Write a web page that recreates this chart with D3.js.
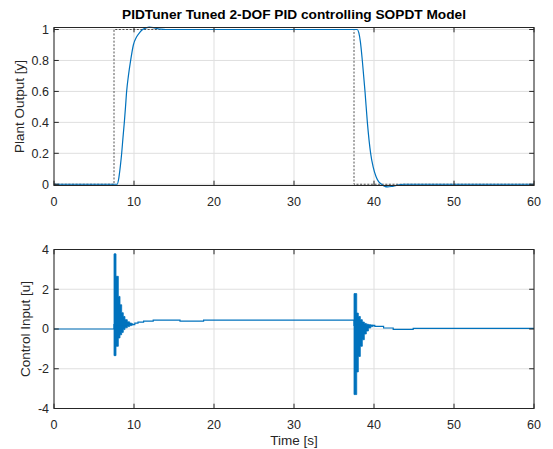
<!DOCTYPE html>
<html>
<head>
<meta charset="utf-8">
<script src="https://cdn.jsdelivr.net/npm/d3@7"></script>
<style>
  body { margin: 0; background: #fff; }
  text { font-family: "Liberation Sans", Arial, Helvetica, sans-serif; fill: #262626; }
</style>
</head>
<body>
<script>
// Data

const xTicks = [0, 10, 20, 30, 40, 50, 60];
const yTicksTop = [0, 0.2, 0.4, 0.6, 0.8, 1];
const yTicksBottom = [-4, -2, 0, 2, 4];

// reference (setpoint) signal
const refTime = [0, 7.5, 7.5, 37.5, 37.5, 60];
const refValue = [0, 0, 1, 1, 0, 0];

// plant output
const yTime = [0, 7.9, 8.1, 8.3, 8.46, 8.62, 8.79, 8.94, 9.08, 9.3, 9.58, 9.92, 10.3, 10.7, 11.08, 11.5, 11.9, 12.4, 12.9, 13.3, 14,
  37.9, 38.1, 38.3, 38.54, 38.875, 39.17, 39.58, 39.9, 40.25, 40.6, 40.96, 41.3, 41.7, 42.2, 42.8, 43.7, 60];
const yValue = [0, 0, 0.04, 0.12, 0.2, 0.3, 0.4, 0.5, 0.6, 0.7, 0.8, 0.9, 0.95, 0.98, 1.0, 1.01, 1.015, 1.012, 1.006, 1.002, 1.0,
  1.0, 0.98, 0.92, 0.8, 0.6, 0.4, 0.2, 0.11, 0.05, 0.015, 0, -0.012, -0.017, -0.014, -0.007, 0, 0];

// control input, slow part (zero-order hold)
const uTime = [0, 7.5, 10.1, 10.5, 11.2, 12.4, 15.75, 18.7, 37.5, 39.9, 40.1, 41.2, 42.4, 44.9, 60];
const uValue = [0, 0.22, 0.3, 0.35, 0.4, 0.45, 0.4, 0.45, 0.18, 0.18, 0.13, 0.05, -0.02, 0.03, 0.03];

// control input chatter after each setpoint change (upper / lower envelope)
const burst1Time = [7.5, 7.75, 8.04, 8.25, 8.46, 8.66, 8.87, 9.16, 9.45, 9.7, 9.9];
const burst1High = [3.78, 2.65, 1.64, 1.22, 0.82, 0.63, 0.47, 0.36, 0.3, 0.26, 0.25];
const burst1Low = [-1.34, -0.87, -0.45, -0.29, -0.17, -0.03, 0.06, 0.12, 0.17, 0.21, 0.25];

const burst2Time = [37.5, 37.84, 38.04, 38.29, 38.54, 38.79, 39.04, 39.3, 39.6, 39.9];
const burst2High = [1.78, 0.8, 0.63, 0.47, 0.35, 0.28, 0.24, 0.21, 0.19, 0.18];
const burst2Low = [-3.3, -2.16, -1.38, -0.87, -0.54, -0.25, -0.1, 0.05, 0.12, 0.18];

// Layout

const width = 553, height = 449;
const left = 54, right = 534;
const topPanel = { top: 27.5, bottom: 185.5 };
const botPanel = { top: 249.5, bottom: 408.5 };
const blue = "#0072BD";
const axisColor = "#262626";
const gridColor = "#dfdfdf";
const tickLen = 4.8;

const svg = d3.select("body").append("svg")
  .attr("width", width)
  .attr("height", height);

const x = d3.scaleLinear().domain([0, 60]).range([left, right]);
const yTop = d3.scaleLinear().domain([-0.008, 1.013]).range([topPanel.bottom, topPanel.top]);
const yBot = d3.scaleLinear().domain([-4, 4]).range([botPanel.bottom, botPanel.top]);

function zip(t, v) {
  return t.map((d, i) => ({ t: d, v: v[i] }));
}

// grid lines of one panel
function drawGrid(g, panel, y, yTicks) {
  const grid = g.append("g").attr("stroke", gridColor).attr("stroke-width", 1);
  xTicks.forEach(t => {
    grid.append("line")
      .attr("x1", x(t)).attr("x2", x(t))
      .attr("y1", panel.top).attr("y2", panel.bottom);
  });
  yTicks.forEach(t => {
    grid.append("line")
      .attr("x1", left).attr("x2", right)
      .attr("y1", y(t)).attr("y2", y(t));
  });
}

// box, inward ticks and tick labels
function drawAxes(g, panel, y, yTicks) {
  const ax = g.append("g").attr("stroke", axisColor).attr("stroke-width", 1).attr("fill", "none");
  ax.append("rect")
    .attr("x", left).attr("y", panel.top)
    .attr("width", right - left).attr("height", panel.bottom - panel.top);
  xTicks.forEach(t => {
    ax.append("line").attr("x1", x(t)).attr("x2", x(t))
      .attr("y1", panel.bottom).attr("y2", panel.bottom - tickLen);
    ax.append("line").attr("x1", x(t)).attr("x2", x(t))
      .attr("y1", panel.top).attr("y2", panel.top + tickLen);
  });
  yTicks.forEach(t => {
    ax.append("line").attr("x1", left).attr("x2", left + tickLen)
      .attr("y1", y(t)).attr("y2", y(t));
    ax.append("line").attr("x1", right).attr("x2", right - tickLen)
      .attr("y1", y(t)).attr("y2", y(t));
  });

  g.append("g").selectAll("text")
    .data(xTicks)
    .join("text")
    .attr("x", d => x(d))
    .attr("y", panel.bottom + 20)
    .attr("text-anchor", "middle")
    .attr("font-size", 12.5)
    .text(d => d);

  g.append("g").selectAll("text")
    .data(yTicks)
    .join("text")
    .attr("x", left - 5)
    .attr("y", d => y(d))
    .attr("dy", "0.35em")
    .attr("text-anchor", "end")
    .attr("font-size", 12.5)
    .text(d => d);
}

// Top panel: plant output

const topG = svg.append("g");
drawGrid(topG, topPanel, yTop, yTicksTop);

topG.append("path")
  .datum(zip(refTime, refValue))
  .attr("fill", "none")
  .attr("stroke", "#404040")
  .attr("stroke-width", 0.9)
  .attr("stroke-dasharray", "2,1.6")
  .attr("d", d3.line().x(d => x(d.t)).y(d => yTop(d.v)));

topG.append("path")
  .datum(zip(yTime, yValue))
  .attr("fill", "none")
  .attr("stroke", blue)
  .attr("stroke-width", 1.2)
  .attr("d", d3.line().x(d => x(d.t)).y(d => yTop(d.v)).curve(d3.curveMonotoneX));

drawAxes(topG, topPanel, yTop, yTicksTop);

// Bottom panel: control input

const botG = svg.append("g");
drawGrid(botG, botPanel, yBot, yTicksBottom);

const band = d3.area()
  .x(d => x(d.t))
  .y0(d => yBot(d.lo))
  .y1(d => yBot(d.hi))
  .curve(d3.curveStepAfter);

[[burst1Time, burst1High, burst1Low], [burst2Time, burst2High, burst2Low]].forEach(([t, hi, lo]) => {
  botG.append("path")
    .datum(t.map((d, i) => ({ t: d, hi: hi[i], lo: lo[i] })))
    .attr("fill", blue)
    .attr("stroke", blue)
    .attr("stroke-width", 0.8)
    .attr("d", band);
});

botG.append("path")
  .datum(zip(uTime, uValue))
  .attr("fill", "none")
  .attr("stroke", blue)
  .attr("stroke-width", 1.2)
  .attr("d", d3.line().x(d => x(d.t)).y(d => yBot(d.v)).curve(d3.curveStepAfter));

drawAxes(botG, botPanel, yBot, yTicksBottom);

// Titles and labels

svg.append("text")
  .attr("x", (left + right) / 2)
  .attr("y", 19)
  .attr("text-anchor", "middle")
  .attr("font-size", 13.7)
  .attr("font-weight", "bold")
  .style("fill", "#000")
  .text("PIDTuner Tuned 2-DOF PID controlling SOPDT Model");

svg.append("text")
  .attr("transform", `translate(23.5, ${(topPanel.top + topPanel.bottom) / 2}) rotate(-90)`)
  .attr("text-anchor", "middle")
  .attr("font-size", 13.5)
  .text("Plant Output [y]");

svg.append("text")
  .attr("transform", `translate(30, ${(botPanel.top + botPanel.bottom) / 2}) rotate(-90)`)
  .attr("text-anchor", "middle")
  .attr("font-size", 13.5)
  .text("Control Input [u]");

svg.append("text")
  .attr("x", (left + right) / 2)
  .attr("y", 444.5)
  .attr("text-anchor", "middle")
  .attr("font-size", 13.5)
  .text("Time [s]");
</script>
</body>
</html>
